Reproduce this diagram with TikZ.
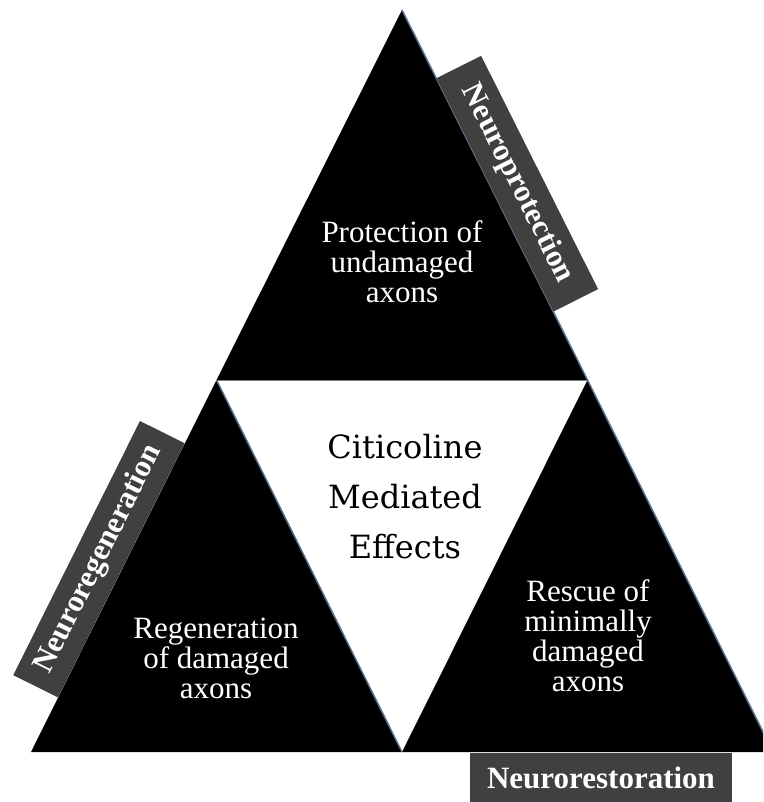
\documentclass[tikz,border=0pt]{standalone}
\usepackage{fontspec}
\setmainfont{Liberation Serif}
\newfontfamily\slabfont{DejaVu Serif}
\definecolor{labelgray}{RGB}{64,64,64}
\definecolor{edgeblue}{RGB}{88,112,140}

\begin{document}
\begin{tikzpicture}
[
    x = 1pt, y = -1pt,
    rim/.style = {draw = edgeblue, line width = 1.5pt},
    effect/.style = {text = white, align = center, font = \fontsize{31}{30}\selectfont},
    tag/.style = {fill = labelgray, text = white, inner sep = 0pt, minimum height = 50pt,
                  font = \bfseries\fontsize{31}{31}\selectfont}
]
\useasboundingbox (0,0) rectangle (763,802);
\clip (0,0) rectangle (763,802);

\coordinate (top) at (402,10);
\coordinate (ml) at (216.5,380);
\coordinate (mr) at (587.5,380);
\coordinate (bl) at (31,752);
\coordinate (bm) at (402,752);
\coordinate (br) at (773,752);

% the three black triangles
\fill (top) -- (mr) -- (ml) -- cycle;
\fill (ml) -- (bm) -- (bl) -- cycle;
\fill (mr) -- (br) -- (bm) -- cycle;
\draw[gray, line width = 0.8pt] (ml) -- (mr);
\draw[rim] (top) -- (mr);
\draw[rim] (ml) -- (bm);
\draw[rim] (mr) -- (br);

% side labels
\path (top) -- (mr) node[tag, pos = 0.5, sloped, anchor = south, minimum width = 261pt] (protect) {Neuroprotection};
\path (bl) -- (ml) node[tag, pos = 0.488, sloped, anchor = south, minimum width = 284pt] (regen) {Neuroregeneration};
\node[tag, anchor = north, minimum width = 262pt] (restore) at (601,753) {Neurorestoration};

% texts
\node[effect] (protecttext) at (402,262) {Protection of\\undamaged\\axons};
\node[effect] (regentext) at (216,658) {Regeneration\\of damaged\\axons};
\node[effect] (rescuetext) at (588,636) {Rescue of\\minimally\\damaged\\axons};
\node[align = center, font = \slabfont\fontsize{32}{50}\selectfont] (citicoline) at (405,497) {Citicoline\\Mediated\\Effects};
\end{tikzpicture}
\end{document}
